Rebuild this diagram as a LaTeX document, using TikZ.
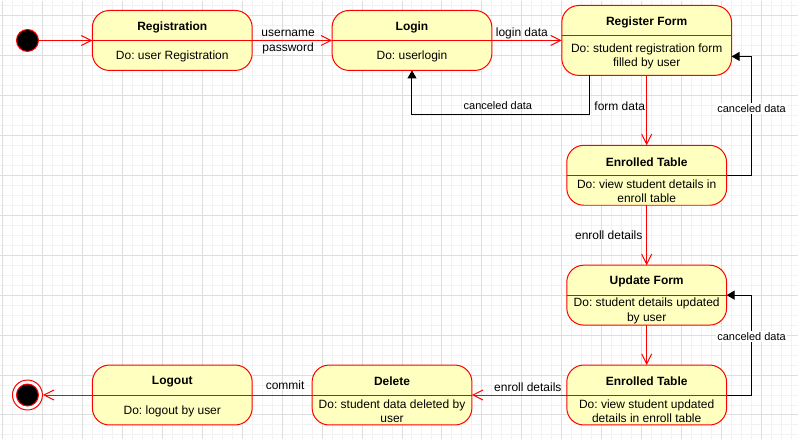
\documentclass[tikz,border=0pt]{standalone}
\usepackage{fontspec}
\setmainfont{Liberation Sans}
\usetikzlibrary{arrows.meta,calc}
\frenchspacing
\definecolor{stfill}{HTML}{FFFFC0}
\definecolor{stred}{HTML}{FF0000}
\definecolor{gridminor}{HTML}{F2F2F2}
\definecolor{gridmajor}{HTML}{DEDEDE}
\newcommand\umlstate[8]{%
  \node[st, minimum width=#4pt, minimum height=#5pt] (#1) at (#2,#3) {};
  \draw[stred, line width=1pt] (#1.west |- 0,#6) -- (#1.east |- 0,#6);
  \node[ttl] (#1-t) at ($(#1.north)!0.5!(#1.north |- 0,#6)$) {#7};
  \node[body] (#1-b) at ($(#1.south)!0.5!(#1.south |- 0,#6)$) {#8};
}
\begin{document}
\begin{tikzpicture}[x=1pt,y=-1pt,
  st/.style={draw=stred, fill=stfill, line width=1pt, rounded corners=17pt, inner sep=0pt, outer sep=0pt},
  ttl/.style={font=\fontsize{12}{14}\selectfont\bfseries, inner sep=0pt, yshift=-1.5pt},
  body/.style={font=\fontsize{12}{14.5}\selectfont, align=center, inner sep=0pt, yshift=-1pt},
  lbl/.style={font=\fontsize{12}{15.5}\selectfont, align=center, inner sep=1pt},
  slbl/.style={font=\fontsize{11}{13}\selectfont, inner sep=1.5pt},
  tr/.style={draw=stred, line width=1pt, -{Straight Barb[length=10pt,width=10pt]}},
  tb/.style={draw=black, line width=1pt, -{Triangle[length=8pt,width=9pt]}},
]
% background and grid
\fill[white] (0,0) rectangle (798,439);
\foreach \x in {2,12,...,792} \draw[gridminor, line width=1pt] (\x,0) -- (\x,439);
\foreach \y in {5,15,...,435} \draw[gridminor, line width=1pt] (0,\y) -- (798,\y);
\foreach \x in {2,42,...,792} \draw[gridmajor, line width=1pt] (\x,0) -- (\x,439);
\foreach \y in {15,55,...,435} \draw[gridmajor, line width=1pt] (0,\y) -- (798,\y);
\useasboundingbox (0,0) rectangle (798,439);

% initial and final states
\node[circle, fill=black, draw=stred, line width=1pt, minimum size=22pt, inner sep=0pt] (init) at (27,40) {};
\node[circle, draw=stred, fill=white, line width=1pt, minimum size=30pt, inner sep=0pt] (fin) at (27,395) {};
\node[circle, fill=black, draw=stred, line width=1pt, minimum size=22pt, inner sep=0pt] (finin) at (27,395) {};

% states
\umlstate{reg}{172}{40}{160}{60}{40}{Registration}{Do: user Registration}
\umlstate{login}{412}{40}{160}{60}{40}{Login}{Do: userlogin}
\umlstate{rf}{647}{40}{170}{70}{35}{Register Form}{Do: student registration form\\filled by user}
\umlstate{et1}{647}{175}{160}{60}{175}{Enrolled Table}{Do: view student details in\\enroll table}
\umlstate{upd}{647}{295}{160}{60}{295}{Update Form}{Do: student details updated\\by user}
\umlstate{et2}{647}{395}{160}{60}{395}{Enrolled Table}{Do: view student updated\\details in enroll table}
\umlstate{del}{392}{395}{160}{60}{395}{Delete}{Do: student data deleted by\\user}
\umlstate{logout}{172}{395}{160}{60}{395}{Logout}{Do: logout by user}

% transitions
\draw[tr] (init) -- (reg);
\draw[tr] (reg) -- (login);
\node[lbl] (l1) at (288,41.5) {username\\password};
\draw[tr] (login) -- (rf);
\node[lbl] (l2) at (522,32.5) {login data};
\draw[tb] ([xshift=-57pt]rf.south) -- ++(0,39) -| (login.south);
\node[slbl] (l3) at (498,105.5) {canceled data};
\draw[tr] (rf) -- (et1);
\node[lbl] (l4) at (620,105.5) {form data};
\draw[tb] (et1.east) -- ++(25,0) |- ([yshift=-16pt]rf.east);
\node[slbl, fill=white] (l5) at (752,108.5) {canceled data};
\draw[tr] (et1) -- (upd);
\node[lbl] (l6) at (609,235.5) {enroll details};
\draw[tb] (et2.east) -- ++(25,0) |- (upd.east);
\node[slbl, fill=white] (l7) at (752,336.5) {canceled data};
\draw[tr] (upd) -- (et2);
\draw[tr] (et2) -- (del);
\node[lbl] (l8) at (528,387.5) {enroll details};
\draw[stred, line width=1pt] (del) -- (logout);
\node[lbl] (l9) at (285,385.5) {commit};
\draw[tr] (logout) -- (fin);
\end{tikzpicture}
\end{document}
